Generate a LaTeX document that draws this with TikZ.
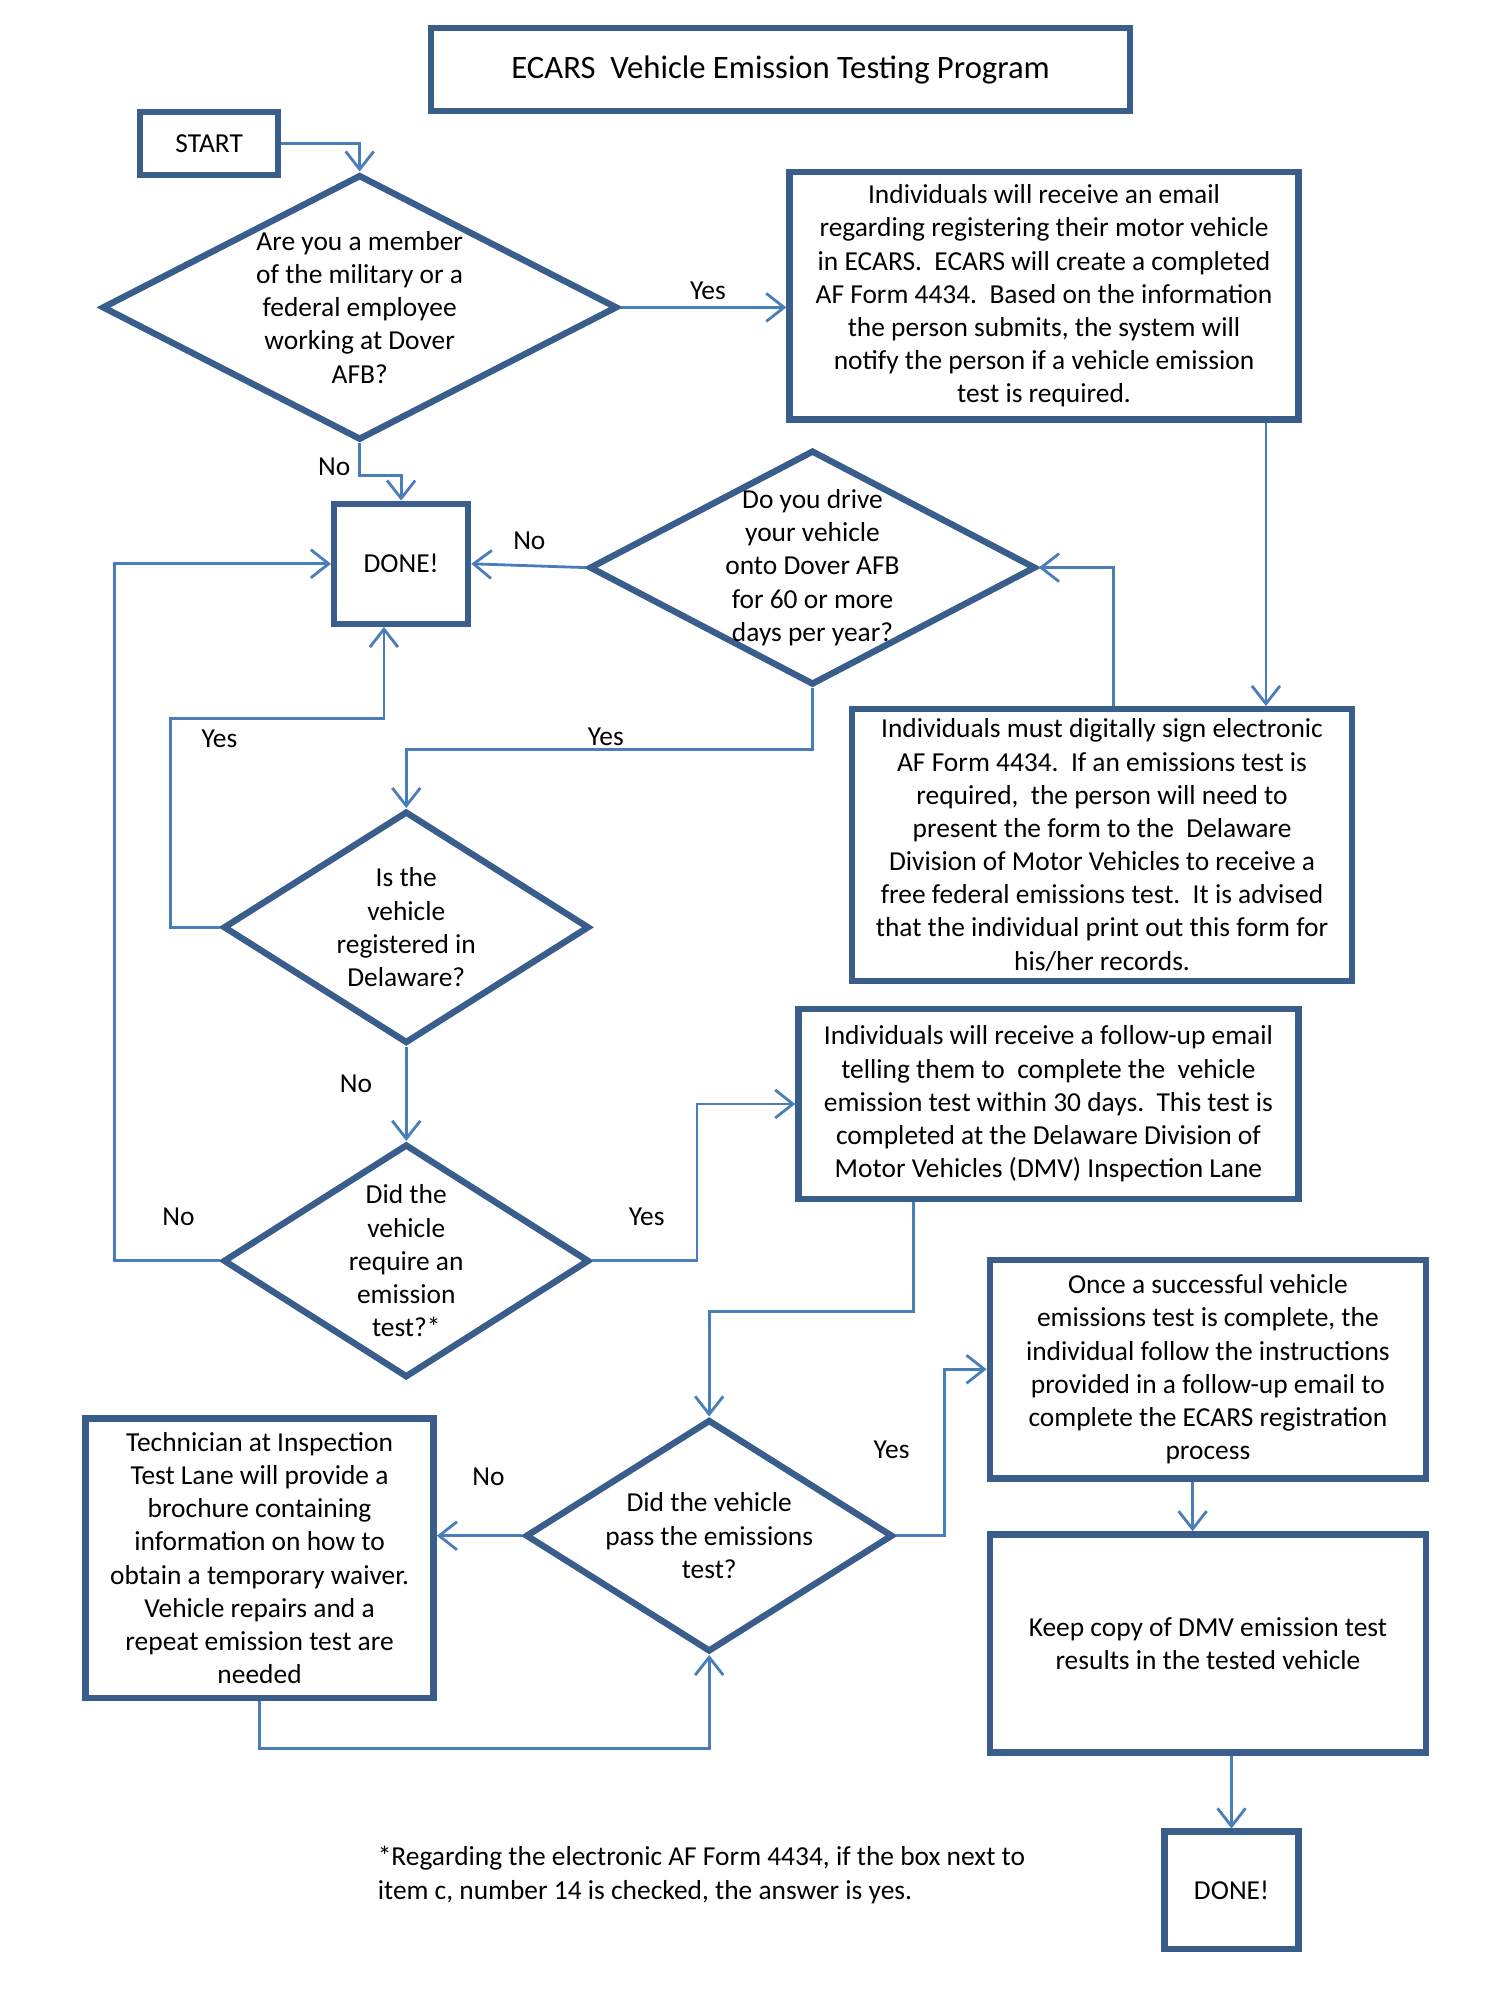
\documentclass[tikz,border=0pt]{standalone}
\usepackage{fontspec}
\setmainfont{Carlito}
\usetikzlibrary{shapes.geometric}
\usetikzlibrary{arrows.meta, positioning}
\definecolor{ecarsEdge}{RGB}{57, 94, 140}
\definecolor{ecarsLine}{RGB}{74, 126, 187}
\colorlet{box edge}{ecarsEdge}
\colorlet{flow line}{ecarsLine}
\newcommand{\ecarsfont}{\fontsize{21.5}{26}\selectfont}
\newcommand{\ecarstitlefont}{\fontsize{25.6}{31}\selectfont}
\tikzset{
    stepbox/.style={draw=box edge, line width=5pt, align=center, font=\ecarsfont, inner sep=0pt},
    decision/.style={diamond, draw=box edge, line width=5pt, inner sep=0pt},
    question/.style={align=center, font=\ecarsfont, inner sep=0pt},
    flow/.style={draw=flow line, line width=2.2pt, -{Straight Barb[length=14pt, width=22pt]}},
    answer/.style={font=\ecarsfont, inner sep=0pt}
}

\begin{document}
\begin{tikzpicture}[x=1pt, y=-1pt]
    % Fix the page size
    \useasboundingbox (0,0) rectangle (1176,1568);

    % Title and start
    \node[stepbox, font=\ecarstitlefont, minimum width=548pt, minimum height=65pt] (title) at (612,54.5) {ECARS\ \ Vehicle Emission Testing Program};
    \node[stepbox, minimum width=108pt, minimum height=49pt] (start) at (164,112.5) {START};

    % Draw the decisions, their text on top
    \node[decision, minimum width=404pt, minimum height=208pt] (member) at (282,241) {};
    \node[question] (member-q) at (member) {Are you a member\\of the military or a\\federal employee\\working at Dover\\AFB?};
    \node[decision, minimum width=350pt, minimum height=184pt] (drive) at (637,445) {};
    \node[question] (drive-q) at (drive) {Do you drive\\your vehicle\\onto Dover AFB\\for 60 or more\\days per year?};
    \node[decision, minimum width=287pt, minimum height=182pt] (regd) at (318.5,727) {};
    \node[question] (regd-q) at (regd) {Is the\\vehicle\\registered in\\Delaware?};
    \node[decision, minimum width=287pt, minimum height=183pt] (required) at (318.5,988.5) {};
    \node[question] (required-q) at (required) {Did the\\vehicle\\require an\\emission\\test?*};
    \node[decision, minimum width=288pt, minimum height=182pt] (passed) at (556,1204) {};
    \node[question] (passed-q) at (passed) {Did the vehicle\\pass the emissions\\test?};

    % Draw the steps
    \node[stepbox, minimum width=399pt, minimum height=194pt] (email) at (818.5,232) {Individuals will receive an email\\regarding registering their motor vehicle\\in ECARS.\ \ ECARS will create a completed\\AF Form 4434.\ \ Based on the information\\the person submits, the system will\\notify the person if a vehicle emission\\test is required.};
    \node[stepbox, minimum width=105pt, minimum height=94pt] (done) at (314.5,442) {DONE!};
    \node[stepbox, minimum width=392pt, minimum height=213pt] (sign) at (864,662.5) {Individuals must digitally sign electronic\\AF Form 4434.\ \ If an emissions test is\\required,\ \ the person will need to\\present the form to the\ \ Delaware\\Division of Motor Vehicles to receive a\\free federal emissions test.\ \ It is advised\\that the individual print out this form for\\his/her records.};
    \node[stepbox, minimum width=392pt, minimum height=149pt] (follow) at (822,865.5) {Individuals will receive a follow-up email\\telling them to\ \ complete the\ \ vehicle\\emission test within 30 days.\ \ This test is\\completed at the Delaware Division of\\Motor Vehicles (DMV) Inspection Lane};
    \node[stepbox, minimum width=273pt, minimum height=219pt] (tech) at (203.5,1221.5) {Technician at Inspection\\Test Lane will provide a\\brochure containing\\information on how to\\obtain a temporary waiver.\\Vehicle repairs and a\\repeat emission test are\\needed};
    \node[stepbox, minimum width=342pt, minimum height=171pt] (once) at (947,1073.5) {Once a successful vehicle\\emissions test is complete, the\\individual follow the instructions\\provided in a follow-up email to\\complete the ECARS registration\\process};
    \node[stepbox, minimum width=342pt, minimum height=171pt] (keep) at (947,1288.5) {Keep copy of DMV emission test\\results in the tested vehicle};
    \node[stepbox, minimum width=105pt, minimum height=92pt] (finish) at (965.5,1482) {DONE!};

    % Connectors
    \draw[flow] (start.east) -| (member.north);
    \draw[flow] (member.east) -- (member.east -| email.west);
    \draw[flow] (member.south) -- ++(0,25) -| (done.north);
    \draw[flow] (drive.west) -- (done.east);
    \draw[flow] ([xshift=-28pt]email.south east) -- ([xshift=-28pt]email.south east |- sign.north);
    \draw[flow] ([xshift=9pt]sign.north) |- (drive.east);
    \draw[flow] (drive.south) -- ++(0,48) -| (regd.north);
    \draw[flow] (regd.west) -- ++(-39,0) |- ([xshift=-13.5pt, yshift=-72pt]done.south) -- ([xshift=-13.5pt]done.south);
    \draw[flow] (regd.south) -- (required.north);
    \draw[flow] (required.west) -- ++(-83,0) |- (done.west);
    \draw[flow] (required.east) -- ++(82,0) |- (follow.west);
    \draw[flow] ([xshift=-106pt]follow.south) -- ++(0,86) -| (passed.north);
    \draw[flow] (passed.west) -- (passed.west -| tech.east);
    \draw[flow] (tech.south) -- ++(0,37) -| (passed.south);
    \draw[flow] (passed.east) -- ++(38,0) |- (once.west);
    \draw[flow] ([xshift=-12pt]once.south) -- ([xshift=-12pt]keep.north);
    \draw[flow] (finish.north |- keep.south) -- (finish.north);

    % Yes / No labels
    \node[answer] (yes-member) at (555,228) {Yes};
    \node[answer] (no-member) at (262,366) {No};
    \node[answer] (no-drive) at (415,424) {No};
    \node[answer] (yes-drive) at (475,578) {Yes};
    \node[answer] (yes-regd) at (172,579) {Yes};
    \node[answer] (no-regd) at (279,850) {No};
    \node[answer] (no-required) at (140,954) {No};
    \node[answer] (yes-required) at (507,954) {Yes};
    \node[answer] (no-passed) at (383,1158) {No};
    \node[answer] (yes-passed) at (699,1137) {Yes};

    % Footnote
    \node[answer, anchor=west, align=left] (footnote) at (296,1470) {*Regarding the electronic AF Form 4434, if the box next to\\item c, number 14 is checked, the answer is yes.};
\end{tikzpicture}
\end{document}
